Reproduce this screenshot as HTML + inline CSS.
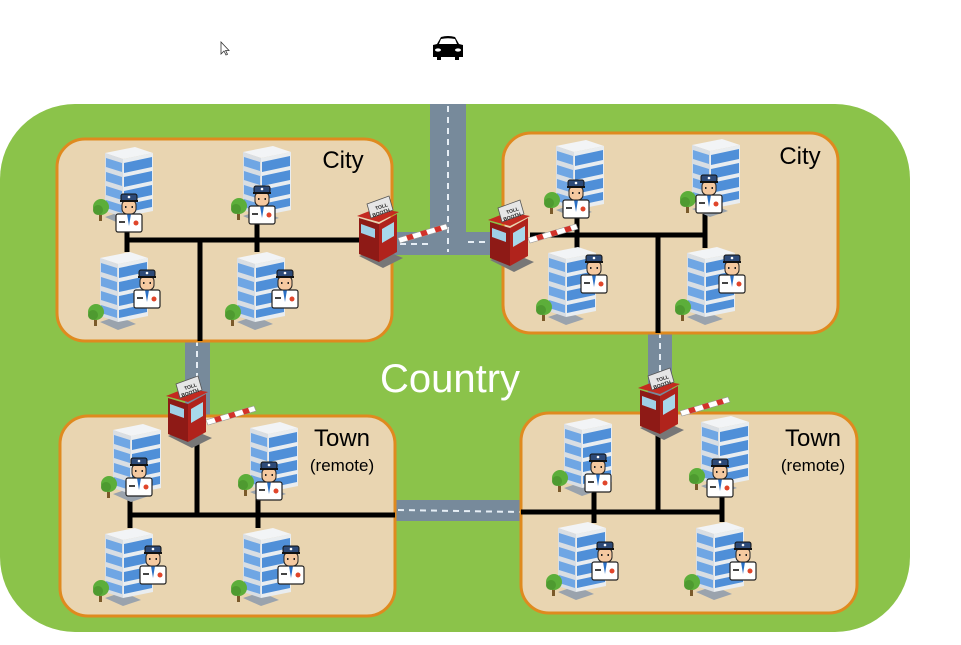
<!DOCTYPE html>
<html><head><meta charset="utf-8"><style>
html,body{margin:0;padding:0;background:#fff;width:961px;height:645px;overflow:hidden}
svg{display:block}
text{font-family:"Liberation Sans",sans-serif}
</style></head><body>
<svg width="961" height="645" viewBox="0 0 961 645" xmlns="http://www.w3.org/2000/svg">
<defs>
<g id="bld">
  <!-- building approx 56x78 -->
  <polygon points="8,70 26,78 44,72 26,64" fill="#9aa3ad"/>
  <polygon points="8,6 38,0 56,6 26,12" fill="#f2f4f6"/>
  <polygon points="8,6 26,12 26,70 8,64" fill="#d9dee3"/>
  <polygon points="26,12 56,6 56,64 26,70" fill="#e9edf0"/>
  <g fill="#4f8fd8">
    <polygon points="27,16 55,10 55,20 27,26"/>
    <polygon points="27,30 55,24 55,34 27,40"/>
    <polygon points="27,44 55,38 55,48 27,54"/>
    <polygon points="27,58 55,52 55,60 27,66"/>
    <polygon points="9,11 25,16 25,25 9,20" fill="#6fa6e4"/>
    <polygon points="9,25 25,30 25,39 9,34" fill="#6fa6e4"/>
    <polygon points="9,39 25,44 25,53 9,48" fill="#6fa6e4"/>
    <polygon points="9,53 25,58 25,66 9,61" fill="#6fa6e4"/>
  </g>
  <rect x="2" y="64" width="3" height="10" fill="#7a5a2a"/>
  <circle cx="4" cy="60" r="8" fill="#5cae3a"/>
  <circle cx="1" cy="63" r="5" fill="#4e9a30"/>
</g>
<g id="cop">
  <!-- officer 26x40 -->
  <rect x="0" y="22" width="26" height="18" rx="2" fill="#fff" stroke="#222" stroke-width="1.2"/>
  <polygon points="11,22 13,34 15,22" fill="#2a6fc4"/>
  <rect x="3" y="29" width="6" height="2" fill="#444"/>
  <circle cx="20" cy="31" r="2.5" fill="#e0452a"/>
  <rect x="6" y="8" width="14" height="14" rx="5" fill="#f5c9a0" stroke="#222" stroke-width="1"/>
  <rect x="5" y="2" width="16" height="7" rx="2" fill="#2d4a78" stroke="#111" stroke-width="1"/>
  <rect x="4" y="8" width="18" height="2" fill="#111"/>
  <circle cx="13" cy="5" r="1.3" fill="#fff"/>
  <rect x="9" y="14" width="1.5" height="2" fill="#222"/><rect x="15.5" y="14" width="1.5" height="2" fill="#222"/>
</g>
<g id="toll">
  <!-- toll booth ~48x68, origin top-left -->
  <polygon points="2,56 26,68 46,58 22,48" fill="#777"/>
  <polygon points="2,18 22,24 22,62 2,54" fill="#8e1a16"/>
  <polygon points="22,24 40,14 40,52 22,62" fill="#b0231c"/>
  <polygon points="0,16 20,8 42,12 22,22" fill="#c32a20"/>
  <polygon points="4,24 18,29 18,38 4,33" fill="#9fd0e6"/>
  <polygon points="25,29 37,22 37,36 25,43" fill="#a8d8ea"/>
  <polygon points="10,4 32,-4 36,10 14,18" fill="#e6e6e6" stroke="#555" stroke-width="0.8"/>
  <text x="18" y="9" font-size="5" font-weight="bold" fill="#222" transform="rotate(-18 22 7)">TOLL</text>
  <text x="15" y="15" font-size="5" font-weight="bold" fill="#222" transform="rotate(-18 22 13)">BOOTH</text>
</g>
<g id="arm">
  <polygon points="0,6 48,-8 50,-3 2,11" fill="#fff" stroke="#999" stroke-width="0.6"/>
  <g fill="#d2322a">
    <polygon points="8,3.5 14,1.8 16,6.8 10,8.5"/>
    <polygon points="22,-0.5 28,-2.2 30,2.8 24,4.5"/>
    <polygon points="36,-4.5 42,-6.2 44,-1.2 38,0.5"/>
  </g>
</g>
</defs>

<!-- cursor -->
<polygon points="221,42 221,54 224,51 226,55 227.5,54.3 225.6,50.5 229,50.5" fill="#fff" stroke="#333" stroke-width="0.8"/>
<!-- car -->
<g transform="translate(432,36)">
  <path d="M5,8 L9,1 Q16,-1 23,1 L27,8 L31,9 L31,21 L27,21 L27,24 L23,24 L23,21 L9,21 L9,24 L5,24 L5,21 L1,21 L1,9 Z" fill="#000"/>
  <path d="M9,3 Q16,1.5 23,3 L25,8 L7,8 Z" fill="#fff"/>
  <ellipse cx="6" cy="14" rx="3" ry="1.6" fill="#fff"/>
  <ellipse cx="26" cy="14" rx="3" ry="1.6" fill="#fff"/>
</g>

<!-- country -->
<rect x="0" y="104" width="910" height="528" rx="75" fill="#8bc34a"/>

<!-- roads -->
<g fill="#778a9b">
  <rect x="430" y="104" width="36" height="151"/>
  <rect x="392" y="232" width="112" height="23"/>
  <rect x="185" y="338" width="25" height="80"/>
  <rect x="648" y="330" width="24" height="85"/>
  <rect x="395" y="500" width="127" height="21"/>
</g>
<g stroke="#e6eef5" stroke-width="2" stroke-dasharray="6,5" fill="none">
  <line x1="448" y1="106" x2="448" y2="252"/>
  <line x1="400" y1="244" x2="428" y2="244"/>
  <line x1="468" y1="242" x2="500" y2="242"/>
  <line x1="197" y1="340" x2="197" y2="380"/>
  <line x1="660" y1="332" x2="660" y2="372"/>
  <line x1="398" y1="510" x2="520" y2="512"/>
</g>

<!-- regions -->
<g fill="#e9d5b1" stroke="#df8a1f" stroke-width="3">
  <rect x="57" y="139" width="335" height="202" rx="28"/>
  <rect x="503" y="133" width="335" height="200" rx="28"/>
  <rect x="60" y="416" width="335" height="200" rx="28"/>
  <rect x="521" y="413" width="336" height="200" rx="28"/>
</g>

<text x="450" y="392" font-size="40" fill="#fff" text-anchor="middle">Country</text>
<text x="343" y="168" font-size="24" fill="#000" text-anchor="middle">City</text>
<text x="800" y="164" font-size="24" fill="#000" text-anchor="middle">City</text>
<text x="342" y="446" font-size="24" fill="#000" text-anchor="middle">Town</text>
<text x="342" y="471" font-size="17" fill="#000" text-anchor="middle">(remote)</text>
<text x="813" y="446" font-size="24" fill="#000" text-anchor="middle">Town</text>
<text x="813" y="471" font-size="17" fill="#000" text-anchor="middle">(remote)</text>

<!-- connector lines -->
<g stroke="#000" stroke-width="5" fill="none">
  <path d="M127,240 H362 M127,225 V252 M200,240 V341 M257,220 V252"/>
  <path d="M530,235 H705 M577,216 V253 M705,214 V248 M658,235 V333"/>
  <path d="M130,515 H395 M130,495 V528 M197,420 V515 M258,498 V528"/>
  <path d="M521,512 H722 M594,492 V523 M658,412 V512 M722,494 V522"/>
</g>

<!-- TL buildings -->
<use href="#bld" x="97" y="147"/><use href="#cop" x="116" y="192"/>
<use href="#bld" x="235" y="146"/><use href="#cop" x="249" y="184"/>
<use href="#bld" x="92" y="252"/><use href="#cop" x="134" y="268"/>
<use href="#bld" x="229" y="252"/><use href="#cop" x="272" y="268"/>
<!-- TR -->
<use href="#bld" x="548" y="140"/><use href="#cop" x="563" y="178"/>
<use href="#bld" x="684" y="139"/><use href="#cop" x="696" y="173"/>
<use href="#bld" x="540" y="247"/><use href="#cop" x="581" y="253"/>
<use href="#bld" x="679" y="247"/><use href="#cop" x="719" y="253"/>
<!-- BL -->
<use href="#bld" x="105" y="424"/><use href="#cop" x="126" y="456"/>
<use href="#bld" x="242" y="422"/><use href="#cop" x="256" y="460"/>
<use href="#bld" x="97" y="528"/><use href="#cop" x="140" y="544"/>
<use href="#bld" x="235" y="528"/><use href="#cop" x="278" y="544"/>
<!-- BR -->
<use href="#bld" x="556" y="418"/><use href="#cop" x="585" y="452"/>
<use href="#bld" x="693" y="416"/><use href="#cop" x="707" y="457"/>
<use href="#bld" x="550" y="522"/><use href="#cop" x="592" y="540"/>
<use href="#bld" x="688" y="522"/><use href="#cop" x="730" y="540"/>

<!-- toll booths -->
<use href="#arm" x="398" y="232"/><use href="#toll" x="357" y="200"/>
<use href="#arm" x="528" y="232"/><use href="#toll" x="488" y="204"/>
<use href="#arm" x="206" y="414"/><use href="#toll" x="166" y="380"/>
<use href="#arm" x="680" y="405"/><use href="#toll" x="638" y="372"/>
</svg>
</body></html>
